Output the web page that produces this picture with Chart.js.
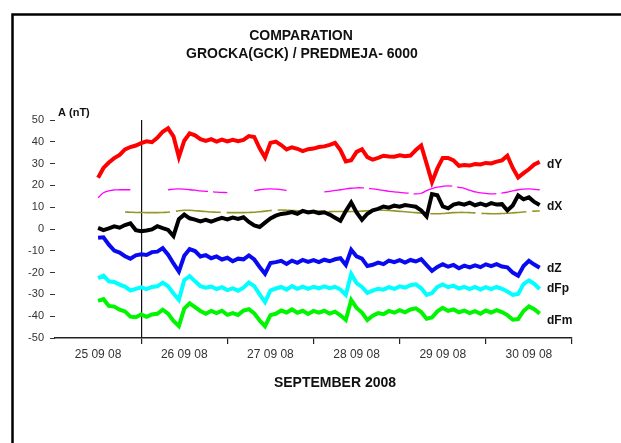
<!DOCTYPE html>
<html>

<head>
    <title>Comparation GCK</title>
    <script src="https://cdn.jsdelivr.net/npm/chart.js@4.4.0/dist/chart.umd.min.js"></script>

    <style type="text/css">
        html,
        body {
            margin: 0;
            padding: 0;
            background-color: #ffffff;
        }
    </style>
</head>

<body>
    <canvas id="chartComp" width="621" height="443"></canvas>

    <script>
        // hours since 25 09 08 00:00
        const hours = [12, 13.5, 15, 16.5, 18, 19.5, 21, 22.5, 24, 25.5,
            27, 28.5, 30, 31.5, 33, 34.5, 36, 37.5, 39, 40.5,
            42, 43.5, 45, 46.5, 48, 49.5, 51, 52.5, 54, 55.5,
            57, 58.5, 60, 61.5, 63, 64.5, 66, 67.5, 69, 70.5,
            72, 73.5, 75, 76.5, 78, 79.5, 81, 82.5, 84, 85.5,
            87, 88.5, 90, 91.5, 93, 94.5, 96, 97.5, 99, 100.5,
            102, 103.5, 105, 106.5, 108, 109.5, 111, 112.5, 114, 115.5,
            117, 118.5, 120, 121.5, 123, 124.5, 126, 127.5, 129, 130.5,
            132, 133.5, 135];

        const dayLabels = ["25 09 08", "26 09 08", "27 09 08", "28 09 08", "29 09 08", "30 09 08"];
        const yTicks = [-50, -40, -30, -20, -10, 0, 10, 20, 30, 40, 50];
        const seriesNames = ["dY", "dX", "dZ", "dFp", "dFm"];

        const dY = [23.5, 28, 30.5, 32.5, 34, 36.5, 37.6, 38.3, 39.4, 40.2,
            39.8, 41.8, 44.6, 46.2, 42.5, 33, 40.5, 43.9, 43, 41.2,
            40.4, 41.2, 40.1, 41, 40.2, 40.9, 40.3, 40.9, 42.6, 42.2,
            37, 32.8, 39.5, 40.1, 38.5, 36.5, 37.5, 36.8, 35.7, 36.6,
            36.9, 37.6, 37.9, 38.6, 39.5, 36.2, 31, 31.5, 35.4, 36.6,
            33, 31.8, 32.6, 33.6, 33.3, 33.2, 33.8, 33.4, 33.7, 36.2,
            38.3, 30, 21.5, 27.8, 32.6, 32.6, 31.5, 29, 29.4, 29.1,
            29.8, 29.6, 30.3, 30.1, 30.9, 31.5, 33.6, 28, 23.6, 25.6,
            27.4, 29.6, 30.8];

        const dX = [0.5, -0.5, 0.3, 1.2, 0.6, 1.8, 2.6, -0.5, -1, -0.7,
            -0.2, 1.3, 0.4, -0.4, -3.2, 4.5, 6.6, 4.9, 4.3, 3.5,
            4.2, 3.4, 4.3, 5.1, 4.4, 5.2, 4.6, 5.4, 3.2, 1.6,
            0.9, 2.9, 4.8, 6.1, 6.9, 7.2, 7.8, 7, 8.3, 7.6,
            8, 7.3, 7.7, 6.6, 5.2, 3.8, 8.2, 12.2, 7.6, 4.2,
            7, 8.6, 9.2, 10.3, 9.8, 10.7, 10.2, 11, 10.6, 10.2,
            8.5, 5.8, 16, 15.5, 10.4, 9.5, 11.2, 11.8, 11.2, 12.1,
            10.9, 11.7, 10.8, 11.9, 11.2, 11.4, 8.5, 10.8, 15.4, 13.6,
            14.5, 12.4, 11];

        const dZ = [-4, -3.8, -7.2, -9.9, -10.8, -12.5, -13.6, -12.1, -11.6, -11.9,
            -10.6, -10.4, -8.8, -11.8, -15.8, -19.5, -12.3, -9.2, -10.1, -12.6,
            -12, -13.4, -12.6, -14, -13.2, -14.8, -13.6, -13.9, -12.1, -14,
            -17.4, -20.5, -15.6, -15.2, -14.6, -16, -14.5, -15.5, -14.2, -15.1,
            -14.3, -15.2, -14.1, -14.8, -13.9, -13.4, -16.5, -9.5, -12.6, -13.6,
            -17, -16.4, -15.4, -16.1, -14.5, -15.2, -14.3, -15.4, -14.2, -14.9,
            -13.8, -16.6, -19.2, -17.4, -16.2, -17.3, -16.5, -18, -16.8, -17.6,
            -16.7, -17.5, -16.2, -17, -16.1, -17.2, -17.6, -20, -21.4, -17,
            -14.6, -16.3, -17.8];

        const dFp = [-22.5, -21.4, -24, -24.3, -25.5, -26.4, -28.2, -27.5, -26.8, -27.6,
            -26.6, -26.3, -24.6, -26.3, -29.6, -32.5, -23.5, -21.6, -24, -26.2,
            -26.9, -26.4, -27.6, -26.7, -28, -27.2, -28.3, -26.9, -24.6, -26.2,
            -30, -33.5, -28.2, -27.3, -26.6, -27.8, -26.2, -27.4, -26.4, -27.5,
            -26.5, -27.2, -26.3, -27.1, -26.5, -27.8, -30.2, -20.6, -24.8, -26.6,
            -29.3, -28.3, -27.4, -27.8, -26.7, -27.5, -26.3, -26.9, -25.8, -25.4,
            -27.2, -30.2, -29.4, -26.6, -25.4, -26.7, -26, -27.3, -26.5, -27.6,
            -26.6, -27.8, -26.7, -27.6, -26.6, -27.4, -28.7, -30.2, -29.8, -25.3,
            -23.6, -25.2, -27.5];

        const dFm = [-33, -32.2, -35.3, -35.6, -37, -37.8, -40.2, -40.5, -39.2, -40.3,
            -39.2, -38.9, -37, -38.8, -42.2, -44.5, -36.5, -34.1, -35.8, -37.6,
            -38.9, -37.6, -38.6, -37.5, -39.4, -38.6, -39.4, -37.4, -36.8, -38.7,
            -42, -44.6, -39.5, -38.9, -37.4, -38.3, -36.9, -38.4, -37.5, -39,
            -37.6, -38.4, -37.5, -38.8, -37.9, -39.6, -41.7, -32.6, -36.2, -38.3,
            -41.8, -39.8, -38.6, -39.1, -37.6, -38.4, -37.2, -38.2, -36.9, -36.4,
            -38.1, -41.2, -40.6, -37.8, -36.2, -37.6, -36.9, -38.2, -37.4, -38.6,
            -37.7, -38.9, -37.4, -38.3, -37.2, -38.1, -39.5, -41.6, -41.3, -37.6,
            -35.5, -36.8, -38.8];

        // thin reference curves (gaps = null)
        const refMagenta = [14.3, 16.6, 17.5, 17.9, 18, 18, 18, null, null, null,
            null, null, null, 18, 18.3, 18.4, 18.3, 18, 17.8, 17.5,
            17.3, 17.1, 16.9, 16.8, 16.7, null, null, null, null, 17.6,
            18, 18.3, 18.4, 18.3, 18.1, 17.7, null, null, null, null,
            null, null, 17, 17.3, 17.7, 18, 18.4, 18.7, 18.9, 18.9,
            18.7, 18.4, 18.1, 17.7, 17.3, 17, 16.8, 16.6, 16.3, 16.1,
            16.4, 17.6, 18.5, 19.2, 19.6, 19.8, 19.6, 19.1, 18.6, 17.8,
            17, 16.6, 16.3, 16.1, 16.2, 16.5, 16.9, 17.5, 18, 18.3,
            18.4, 18.2, 18];

        const refOlive = [8.1, null, null, null, null, 7.8, 7.7, 7.6, 7.6, 7.5,
            7.5, 7.5, 7.6, 7.7, 8, 8.4, 8.6, 8.6, 8.4, 8.2,
            8, 7.8, 7.7, 7.6, 7.5, 7.5, 7.5, 7.5, 7.6, 7.7,
            7.9, 8.2, 8.5, 8.7, 8.7, 8.6, 8.5, 8.4, 8.3, 8.3,
            8.2, 8.2, 8.1, 8, 8, 8, 8, 8, 8.1, 8.2,
            8.4, 8.5, 8.6, 8.6, 8.5, 8.3, 8.1, 7.9, 7.7, 7.5,
            7.3, 7.1, 7, 7, 7.1, 7.3, 7.5, 7.6, 7.6, 7.5,
            7.4, 7.2, 7.1, 7, 7, 7.1, 7.2, 7.4, 7.6, 7.8,
            8, 8.2, 8.3];

        const FONT = "'Liberation Sans', Arial, sans-serif";

        function Pairs(values) {
            return values.map(function(v, i) {
                return { x: hours[i], y: v };
            });
        }

        function Noisy(label, values, color) {
            return {
                label: label,
                data: Pairs(values),
                borderColor: color,
                borderWidth: 4,
                tension: 0,
                pointRadius: 0
            };
        }

        var decorPlugin = {
            id: "decor",
            beforeDraw: function(chart) {
                let ctx = chart.ctx;
                ctx.save();
                ctx.fillStyle = "#ffffff";
                ctx.fillRect(0, 0, chart.width, chart.height);
                ctx.restore();
            },
            afterDraw: function(chart) {
                let ctx = chart.ctx;
                ctx.save();

                // frame
                ctx.strokeStyle = "#000000";
                ctx.lineWidth = 2.5;
                ctx.strokeRect(12.5, 14.5, 800, 800);

                ctx.fillStyle = "#111111";
                ctx.textBaseline = "middle";

                ctx.textAlign = "center";
                ctx.font = "bold 14px " + FONT;
                ctx.fillText("COMPARATION", 301, 36);
                ctx.fillText("GROCKA(GCK) / PREDMEJA- 6000", 302, 54);
                ctx.fillText("SEPTEMBER 2008", 335, 383);

                ctx.textAlign = "left";
                ctx.font = "bold 11px " + FONT;
                ctx.fillText("A (nT)", 58, 113);

                ctx.font = "bold 12px " + FONT;
                let labelY = [165, 207, 269, 289, 321];
                seriesNames.forEach(function(name, i) {
                    ctx.fillText(name, 547, labelY[i]);
                });

                ctx.restore();
            }
        };

        window.onload = function() {
            let ctx = document.getElementById("chartComp").getContext("2d");

            new Chart(ctx, {
                type: "line",
                data: {
                    datasets: [
                        Noisy("dY", dY, "rgb(255, 0, 0)"),
                        Noisy("dX", dX, "rgb(0, 0, 0)"),
                        Noisy("dZ", dZ, "rgb(10, 10, 240)"),
                        Noisy("dFp", dFp, "rgb(0, 255, 255)"),
                        Noisy("dFm", dFm, "rgb(0, 245, 0)"),
                        {
                            label: "ref1",
                            data: Pairs(refMagenta),
                            borderColor: "rgb(255, 0, 255)",
                            borderWidth: 1.3,
                            borderDash: [40, 5],
                            tension: 0.4,
                            pointRadius: 0,
                            spanGaps: false
                        },
                        {
                            label: "ref2",
                            data: Pairs(refOlive),
                            borderColor: "rgb(150, 150, 40)",
                            borderWidth: 1.6,
                            borderDash: [45, 6],
                            tension: 0.4,
                            pointRadius: 0,
                            spanGaps: false
                        }
                    ]
                },
                options: {
                    responsive: false,
                    animation: false,
                    events: [],
                    layout: {
                        padding: { left: 0, top: 120, right: 49, bottom: 0 }
                    },
                    plugins: {
                        legend: { display: false },
                        tooltip: { enabled: false },
                        title: { display: false }
                    },
                    scales: {
                        x: {
                            type: "linear",
                            min: 0,
                            max: 144,
                            afterFit: function(scale) {
                                scale.height = 105;
                            },
                            afterBuildTicks: function(scale) {
                                let t = [];
                                for (let i = 0; i < dayLabels.length; i++) {
                                    t.push({ value: i * 24 + 12 });
                                    t.push({ value: i * 24 + 24 });
                                }
                                scale.ticks = t;
                            },
                            border: { display: true, color: "#222222", width: 1.5 },
                            grid: {
                                drawOnChartArea: true,
                                drawTicks: true,
                                tickLength: 6,
                                lineWidth: 1.2,
                                color: function(c) {
                                    return c.tick && c.tick.value === 24 ? "#111111" : "rgba(0,0,0,0)";
                                },
                                tickColor: function(c) {
                                    return c.tick && c.tick.value % 24 === 0 ? "#222222" : "rgba(0,0,0,0)";
                                }
                            },
                            ticks: {
                                autoSkip: false,
                                maxRotation: 0,
                                padding: 3,
                                color: "#333333",
                                font: { family: FONT, size: 12 },
                                callback: function(value) {
                                    if (value % 24 === 12) {
                                        return dayLabels[(value - 12) / 24];
                                    }
                                    return "";
                                }
                            }
                        },
                        y: {
                            min: -50,
                            max: 50,
                            afterFit: function(scale) {
                                scale.width = 55;
                            },
                            afterBuildTicks: function(scale) {
                                scale.ticks = yTicks.map(function(v) {
                                    return { value: v };
                                });
                            },
                            border: { display: false },
                            grid: {
                                drawOnChartArea: false,
                                drawTicks: true,
                                tickLength: 5,
                                tickColor: "#333333"
                            },
                            ticks: {
                                padding: 6,
                                color: "#333333",
                                font: { family: FONT, size: 11 }
                            }
                        }
                    }
                },
                plugins: [decorPlugin]
            });
        };
    </script>
</body>

</html>
